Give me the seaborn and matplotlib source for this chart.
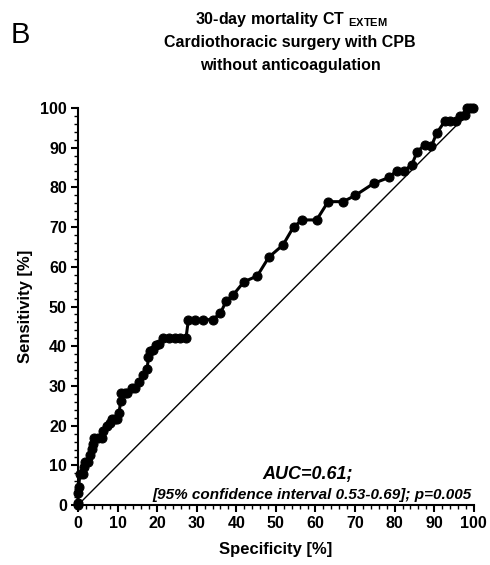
import matplotlib
matplotlib.use("Agg")
import matplotlib.pyplot as plt
from matplotlib.ticker import MultipleLocator
import seaborn as sns
import pandas as pd

# ROC curve points (percent)
spec = [0, 0, 0, 0.2, 0.5, 1.3, 1.5, 1.8, 2.6, 3.0, 3.5, 3.9, 4.0, 5.1, 6.1, 6.4,
        7.4, 8.1, 8.5, 9.3, 9.8, 10.4, 10.8, 11.0, 11.9, 12.5, 13.6, 14.4, 15.4,
        16.5, 17.5, 17.8, 18.2, 19.0, 19.7, 20.5, 21.5, 23.0, 24.5, 25.8, 27.3,
        27.9, 29.5, 31.6, 34.0, 36.0, 37.5, 39.2, 41.9, 45.3, 48.2, 51.8, 54.5,
        56.7, 60.3, 63.2, 67.0, 70.1, 74.7, 78.6, 80.5, 82.3, 84.3, 85.7, 87.6,
        89.3, 90.6, 92.7, 93.9, 95.6, 96.6, 97.7, 98.3, 99.0, 99.8]
sens = [0, 0.6, 3.0, 4.6, 7.8, 7.8, 9.6, 10.9, 10.9, 12.6, 14.1, 15.5, 17.0, 17.0,
        17.0, 18.6, 19.9, 20.6, 21.7, 21.7, 21.7, 23.3, 26.2, 28.1, 28.1, 28.1,
        29.6, 29.6, 31.1, 32.7, 34.2, 37.4, 38.9, 39.0, 40.3, 40.6, 42.0, 42.0,
        42.0, 42.0, 42.0, 46.7, 46.7, 46.7, 46.7, 48.3, 51.5, 52.9, 56.2, 57.7,
        62.4, 65.5, 70.1, 71.8, 71.8, 76.4, 76.4, 78.0, 81.0, 82.5, 84.2, 84.2,
        85.6, 89.0, 90.7, 90.4, 93.6, 96.7, 96.7, 96.7, 98.0, 98.3, 100, 100, 100]

df = pd.DataFrame({"spec": spec, "sens": sens})

plt.rcParams["font.family"] = ["Liberation Sans", "DejaVu Sans"]
plt.rcParams["mathtext.fontset"] = "custom"
plt.rcParams["mathtext.bf"] = "Liberation Sans:bold"
plt.rcParams["mathtext.rm"] = "Liberation Sans"

fig = plt.figure(figsize=(4.9, 5.65), dpi=100)
ax = fig.add_axes([0.159, 0.106, 0.808, 0.703])

ax.plot([0, 100], [0, 100], color="black", lw=1.0)
sns.lineplot(data=df, x="spec", y="sens", sort=False, estimator=None,
             color="black", lw=2.2, marker="o", markersize=6.5,
             markeredgecolor="black", ax=ax, clip_on=False, zorder=3)

ax.set_xlim(0, 100)
ax.set_ylim(0, 100)
ax.xaxis.set_major_locator(MultipleLocator(10))
ax.xaxis.set_minor_locator(MultipleLocator(2))
ax.yaxis.set_major_locator(MultipleLocator(10))
ax.yaxis.set_minor_locator(MultipleLocator(2))
ax.tick_params(which="major", length=5, width=1.5, labelsize=11.5, pad=3)
ax.tick_params(which="minor", length=3, width=1)
for lab in ax.get_xticklabels() + ax.get_yticklabels():
    lab.set_fontweight("bold")
for s in ["top", "right"]:
    ax.spines[s].set_visible(False)
for s in ["left", "bottom"]:
    ax.spines[s].set_linewidth(1.5)

ax.set_xlabel("Specificity [%]", fontsize=12, fontweight="bold", labelpad=8)
ax.set_ylabel("Sensitivity [%]", fontsize=12, fontweight="bold", labelpad=5)

ax.text(0.58, 0.065, "AUC=0.61;", transform=ax.transAxes, ha="center",
        fontsize=13, fontweight="bold", style="italic")
ax.text(0.995, 0.015, "[95% confidence interval 0.53-0.69]; p=0.005",
        transform=ax.transAxes, ha="right", fontsize=11,
        fontweight="bold", style="italic")

fig.text(0.041, 0.938, "B", fontsize=21, ha="center", va="center")
fig.text(0.595, 0.966, r"30-day mortality CT $_{\mathbf{EXTEM}}$", ha="center",
         va="center", fontsize=11.5, fontweight="bold")
fig.text(0.592, 0.925, "Cardiothoracic surgery with CPB", ha="center",
         va="center", fontsize=11.5, fontweight="bold")
fig.text(0.592, 0.884, "without anticoagulation", ha="center",
         va="center", fontsize=11.5, fontweight="bold")

fig.savefig("out.png", dpi=100)
